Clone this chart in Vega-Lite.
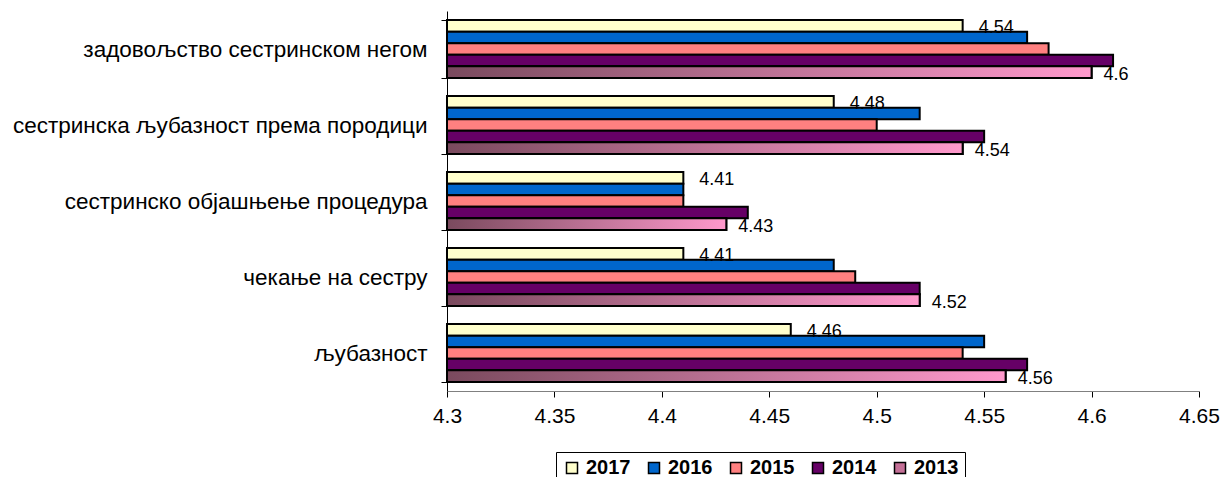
{
  "$schema": "https://vega.github.io/schema/vega-lite/v6.json",
  "width": 752,
  "height": 380,
  "autosize": {"type": "none"},
  "padding": {"left": 447, "top": 11, "right": 24, "bottom": 86},
  "background": "white",
  "config": {"view": {"stroke": null}, "font": "Liberation Sans"},
  "data": {"values": [
    {"cat": "задовољство сестринском негом", "year": "2017", "v": 4.54},
    {"cat": "задовољство сестринском негом", "year": "2016", "v": 4.57},
    {"cat": "задовољство сестринском негом", "year": "2015", "v": 4.58},
    {"cat": "задовољство сестринском негом", "year": "2014", "v": 4.61},
    {"cat": "задовољство сестринском негом", "year": "2013", "v": 4.60},
    {"cat": "сестринска љубазност према породици", "year": "2017", "v": 4.48},
    {"cat": "сестринска љубазност према породици", "year": "2016", "v": 4.52},
    {"cat": "сестринска љубазност према породици", "year": "2015", "v": 4.50},
    {"cat": "сестринска љубазност према породици", "year": "2014", "v": 4.55},
    {"cat": "сестринска љубазност према породици", "year": "2013", "v": 4.54},
    {"cat": "сестринско објашњење процедура", "year": "2017", "v": 4.41},
    {"cat": "сестринско објашњење процедура", "year": "2016", "v": 4.41},
    {"cat": "сестринско објашњење процедура", "year": "2015", "v": 4.41},
    {"cat": "сестринско објашњење процедура", "year": "2014", "v": 4.44},
    {"cat": "сестринско објашњење процедура", "year": "2013", "v": 4.43},
    {"cat": "чекање на сестру", "year": "2017", "v": 4.41},
    {"cat": "чекање на сестру", "year": "2016", "v": 4.48},
    {"cat": "чекање на сестру", "year": "2015", "v": 4.49},
    {"cat": "чекање на сестру", "year": "2014", "v": 4.52},
    {"cat": "чекање на сестру", "year": "2013", "v": 4.52},
    {"cat": "љубазност", "year": "2017", "v": 4.46},
    {"cat": "љубазност", "year": "2016", "v": 4.55},
    {"cat": "љубазност", "year": "2015", "v": 4.54},
    {"cat": "љубазност", "year": "2014", "v": 4.57},
    {"cat": "љубазност", "year": "2013", "v": 4.56}
  ]},
  "encoding": {
    "y": {
      "field": "cat", "type": "nominal", "sort": null,
      "scale": {"paddingInner": 0.24, "paddingOuter": 0.12},
      "axis": {"title": null, "labelFontSize": 22.5, "labelColor": "black", "tickBand": "extent", "tickSize": 6, "tickColor": "black", "domainColor": "black", "labelPadding": 14, "labelLimit": 500}
    },
    "yOffset": {
      "field": "year", "type": "nominal",
      "scale": {"domain": ["2017", "2016", "2015", "2014", "2013"], "paddingInner": 0, "paddingOuter": 0}
    },
    "x": {
      "field": "v", "type": "quantitative",
      "scale": {"domain": [4.3, 4.65], "zero": false, "nice": false},
      "axis": {"title": null, "values": [4.3, 4.35, 4.4, 4.45, 4.5, 4.55, 4.6, 4.65], "format": "~g", "labelFontSize": 21, "labelColor": "black", "tickSize": 6, "tickColor": "black", "domainColor": "#808080", "grid": false, "labelPadding": 8, "labelFlush": false}
    },
    "x2": {"datum": 4.3}
  },
  "layer": [
    {
      "mark": {"type": "bar", "stroke": "black", "strokeWidth": 2},
      "encoding": {
        "color": {
          "field": "year", "type": "nominal",
          "scale": {
            "domain": ["2017", "2016", "2015", "2014", "2013"],
            "range": ["#FFFFCC", "#0066CC", "#FF8080", "#660066", "#C47097"]
          },
          "legend": {
            "title": null, "orient": "none", "legendX": 109, "legendY": 441,
            "direction": "horizontal", "columns": 5, "strokeColor": "black", "padding": 6,
            "symbolType": "square", "symbolSize": 121, "symbolStrokeColor": "black", "symbolStrokeWidth": 1.5,
            "labelFontSize": 20, "labelFontWeight": "bold", "labelColor": "black", "columnPadding": 13, "labelOffset": 4
          }
        }
      }
    },
    {
      "transform": [{"filter": "datum.year == '2013'"}],
      "mark": {"type": "bar", "stroke": "black", "strokeWidth": 2,
        "color": {"gradient": "linear", "x1": 0, "y1": 0, "x2": 1, "y2": 0, "stops": [{"offset": 0, "color": "#7A4A5E"}, {"offset": 1, "color": "#FF99CC"}]}}
    },
    {
      "transform": [{"filter": "datum.year == '2017'"}],
      "mark": {"type": "text", "align": "left", "baseline": "middle", "dx": 16, "dy": 2, "fontSize": 18, "color": "black"},
      "encoding": {"text": {"field": "v", "type": "quantitative", "format": ".2~f"}, "x2": null}
    },
    {
      "transform": [{"filter": "datum.year == '2013'"}],
      "mark": {"type": "text", "align": "left", "baseline": "middle", "dx": 12, "dy": 3, "fontSize": 18, "color": "black"},
      "encoding": {"text": {"field": "v", "type": "quantitative", "format": ".2~f"}, "x2": null}
    }
  ]
}
